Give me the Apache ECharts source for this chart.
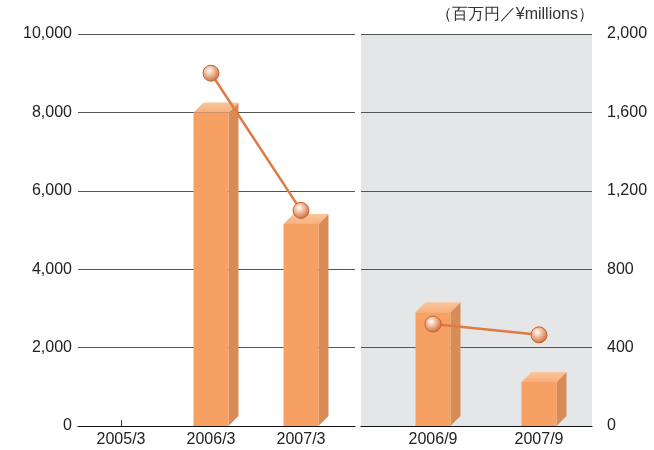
<!DOCTYPE html>
<html>
<head>
<meta charset="utf-8">
<script src="https://cdn.jsdelivr.net/npm/echarts@6/dist/echarts.min.js"></script>
<style>html,body{margin:0;padding:0;background:#fff;}#c{width:654px;height:450px;}</style>
</head>
<body>
<div id="c"></div>
<script>
// ---- data ----
const annualCats = ['2005/3', '2006/3', '2007/3'];
const annualBars = [0, 8000, 5150];
const annualLine = [null, 9000, 5500];
const halfCats = ['2006/9', '2007/9'];
const halfBars = [580, 225];
const halfLine = [520, 465];
const leftTicks = [0, 2000, 4000, 6000, 8000, 10000];
const rightTicks = [0, 400, 800, 1200, 1600, 2000];
const unitLabel = '（百万円／¥millions）';

const FONT = 'Liberation Sans, Arial, sans-serif';
const FS = 16;
const fmt = v => v.toLocaleString('en-US');

function bar3d(params, api) {
  const v = api.value(1);
  if (!v) return;
  const top = api.coord([api.value(0), v]);
  const base = api.coord([api.value(0), 0]);
  const w = 35, d = 10;
  const x = top[0] - w / 2, yt = top[1], yb = base[1];
  return {
    type: 'group',
    children: [
      { type: 'polygon', shape: { points: [[x + w, yt], [x + w + d, yt - d], [x + w + d, yb - d], [x + w, yb]] }, style: { fill: '#D98B57' } },
      { type: 'polygon', shape: { points: [[x, yt], [x + d, yt - d], [x + w + d, yt - d], [x + w, yt]] },
        style: { fill: new echarts.graphic.LinearGradient(0, 0, 0, 1, [{ offset: 0, color: '#F9C69C' }, { offset: 1, color: '#F7B07C' }]) } },
      { type: 'rect', shape: { x: x, y: yt, width: w, height: yb - yt }, style: { fill: '#F6A064' } }
    ]
  };
}

const markerStyle = {
  color: new echarts.graphic.RadialGradient(0.4, 0.35, 0.7, [
    { offset: 0, color: '#FFFFFF' },
    { offset: 0.35, color: '#F4C3A6' },
    { offset: 1, color: '#C8632F' }
  ]),
  borderColor: '#C8632F',
  borderWidth: 1
};

const chart = echarts.init(document.getElementById('c'), null, { renderer: 'canvas' });
chart.setOption({
  animation: false,
  textStyle: { fontFamily: FONT },
  graphic: [{
    type: 'text', right: 60, top: 7,
    style: { text: unitLabel, font: FS + 'px ' + FONT, fill: '#333', textAlign: 'right' }
  }],
  grid: [
    { left: 78, right: 299, top: 34, bottom: 24 },                 // 0 left frame
    { left: 76, width: 270, top: 34, bottom: 24 },                  // 1 left data
    { left: 361, right: 62, top: 34, bottom: 24, show: true, backgroundColor: '#E5E6E8', borderWidth: 0 }, // 2 right frame
    { left: 380, right: 62, top: 34, bottom: 24 }                   // 3 right data
  ],
  xAxis: [
    { gridIndex: 0, type: 'category', data: [''], axisLine: { lineStyle: { color: '#111', width: 1.2 } }, axisTick: { show: false }, axisLabel: { show: false } },
    { gridIndex: 1, type: 'category', data: annualCats, axisLine: { show: false },
      axisTick: { show: true, inside: true, length: 6, alignWithLabel: true, lineStyle: { color: '#333' } },
      axisLabel: { color: '#222', fontSize: FS, margin: 6, fontFamily: FONT } },
    { gridIndex: 2, type: 'category', data: [''], axisLine: { lineStyle: { color: '#111', width: 1.2 } }, axisTick: { show: false }, axisLabel: { show: false } },
    { gridIndex: 3, type: 'category', data: halfCats, axisLine: { show: false },
      axisTick: { show: true, inside: true, length: 6, alignWithLabel: true, lineStyle: { color: '#333' } },
      axisLabel: { color: '#222', fontSize: FS, margin: 6, fontFamily: FONT } }
  ],
  yAxis: [
    { gridIndex: 0, type: 'value', min: leftTicks[0], max: leftTicks[leftTicks.length - 1], interval: leftTicks[1] - leftTicks[0],
      axisLine: { show: false }, axisTick: { show: false },
      axisLabel: { color: '#222', fontSize: FS, margin: 6, formatter: fmt, fontFamily: FONT },
      splitLine: { lineStyle: { color: '#555', width: 1 } } },
    { gridIndex: 1, type: 'value', min: leftTicks[0], max: leftTicks[leftTicks.length - 1], show: false, splitLine: { show: false } },
    { gridIndex: 2, type: 'value', position: 'right', min: rightTicks[0], max: rightTicks[rightTicks.length - 1], interval: rightTicks[1] - rightTicks[0],
      axisLine: { show: false }, axisTick: { show: false },
      axisLabel: { color: '#222', fontSize: FS, margin: 15, formatter: fmt, fontFamily: FONT },
      splitLine: { lineStyle: { color: '#555', width: 1 } } },
    { gridIndex: 3, type: 'value', min: rightTicks[0], max: rightTicks[rightTicks.length - 1], show: false, splitLine: { show: false } }
  ],
  series: [
    { type: 'custom', xAxisIndex: 1, yAxisIndex: 1, renderItem: bar3d, data: annualBars.map((v, i) => [i, v]), z: 3 },
    { type: 'custom', xAxisIndex: 3, yAxisIndex: 3, renderItem: bar3d, data: halfBars.map((v, i) => [i, v]), z: 3 },
    { type: 'line', xAxisIndex: 1, yAxisIndex: 1, data: annualLine, symbol: 'circle', symbolSize: 16, showAllSymbol: true,
      lineStyle: { color: '#E07A45', width: 2.5 }, itemStyle: markerStyle, z: 5 },
    { type: 'line', xAxisIndex: 3, yAxisIndex: 3, data: halfLine, symbol: 'circle', symbolSize: 16, showAllSymbol: true,
      lineStyle: { color: '#E07A45', width: 2.5 }, itemStyle: markerStyle, z: 5 }
  ]
});
</script>
</body>
</html>
